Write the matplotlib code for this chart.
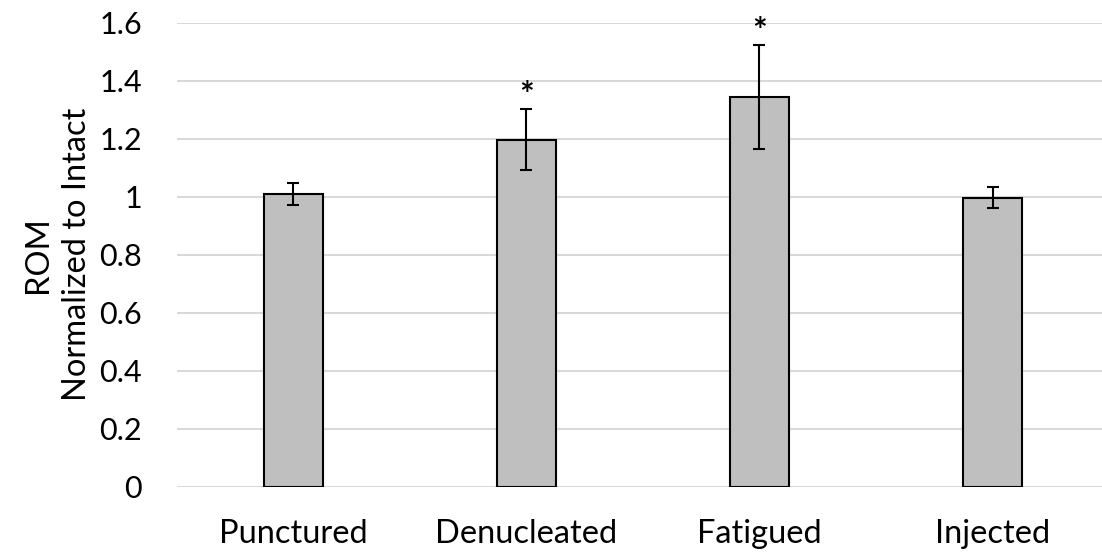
import matplotlib
matplotlib.use("Agg")
import matplotlib.pyplot as plt
import numpy as np

categories = ["Punctured", "Denucleated", "Fatigued", "Injected"]
rom_mean = [1.010, 1.197, 1.344, 0.997]
rom_err = [0.037, 0.105, 0.180, 0.037]
significant = [False, True, True, False]
y_ticks = [0, 0.2, 0.4, 0.6, 0.8, 1.0, 1.2, 1.4, 1.6]
y_tick_labels = ["0", "0.2", "0.4", "0.6", "0.8", "1", "1.2", "1.4", "1.6"]

plt.rcParams["font.family"] = ["Lato", "DejaVu Sans"]

fig = plt.figure(figsize=(11.02, 5.54), dpi=100)
ax = fig.add_axes([0.1604, 0.1215, 0.846, 0.8375])

x = np.arange(len(categories))
ax.bar(x, rom_mean, width=0.253, color="#bfbfbf", edgecolor="black",
       linewidth=1.5, zorder=3)
ax.errorbar(x, rom_mean, yerr=rom_err, fmt="none", ecolor="black",
            elinewidth=1.5, capsize=4.5, capthick=1.5, zorder=4)

for xi, m, e, sig in zip(x, rom_mean, rom_err, significant):
    if sig:
        ax.annotate("*", xy=(xi, m + e), xytext=(0, 9.5), textcoords="offset points",
                    ha="center", va="center", fontsize=25, fontweight="bold")

ax.set_xlim(-0.5, 3.5)
ax.set_ylim(0, 1.6)
ax.set_yticks(y_ticks)
ax.set_yticklabels(y_tick_labels, fontsize=22)
ax.set_xticks(x)
ax.set_xticklabels(categories, fontsize=23.5)
ax.yaxis.grid(True, color="#d9d9d9", linewidth=1.5, zorder=0)
ax.set_axisbelow(True)
for s in ax.spines.values():
    s.set_visible(False)
ax.tick_params(axis="both", length=0, colors="black")
ax.tick_params(axis="y", pad=25)
ax.tick_params(axis="x", pad=23)
ax.set_ylabel("ROM\nNormalized to Intact", fontsize=23.5, labelpad=5,
              linespacing=1.4)

fig.savefig("out.png", dpi=100)
